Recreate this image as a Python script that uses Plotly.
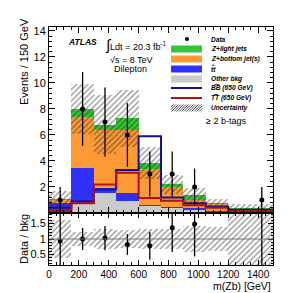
import plotly.graph_objects as go

# ---------------- data ----------------
edges = [0, 150, 300, 450, 600, 750, 900, 1050, 1200, 1350, 1500]
centers = [75, 225, 375, 525, 675, 825, 975, 1125, 1275, 1425]
other_bkg = [0.05, 0.72, 1.50, 0.90, 0.60, 0.45, 0.30, 0.15, 0.05, 0.05]
ttbar = [0.75, 2.74, 0.45, 0.60, 0.05, 0.05, 0.05, 0.03, 0.02, 0.02]
z_bottom = [0.25, 3.94, 4.45, 4.90, 2.75, 1.50, 0.65, 0.55, 0.18, 0.18]
z_light = [0.02, 0.60, 0.40, 0.90, 0.45, 0.20, 0.35, 0.02, 0.10, 0.10]
bb650 = [0.40, 0.90, 1.80, 3.30, 5.90, 1.20, 0.75, 0.50, 0.25, 0.25]
tt650 = [0.15, 0.75, 2.20, 3.10, 1.15, 0.95, 0.60, 0.40, 0.15, 0.15]
data = [1, 8, 7, 6, 3, 3, 2, 0, 0, 1]
data_err = [1.0, 2.83, 2.65, 2.45, 1.73, 1.73, 1.41, 0.0, 0.0, 1.0]
rel_unc = [0.60, 0.24, 0.33, 0.30, 0.32, 0.33, 0.42, 0.40, 0.90, 0.90]
x_ticks = [0, 200, 400, 600, 800, 1000, 1200, 1400]
y_ticks = [2, 4, 6, 8, 10, 12, 14]
r_ticks = [0.5, 1, 1.5]
r_tick_text = ["0.5", "1", "1.5"]

C_GREEN = "#34c634"
C_ORANGE = "#fd9a36"
C_BLUE = "#3030fb"
C_GREY = "#cbcbcb"
C_BB = "#12129a"
C_TT = "#b01212"
HATCH = "#222222"
FONT = "Liberation Sans"

W, H = 291, 293
L, R, T, B = 41, 26, 19, 36
PW, PH = W - L - R, H - T - B


def px(x):
    return (x - L) / PW


def py(y):
    return (H - B - y) / PH


width = [e2 - e1 for e1, e2 in zip(edges[:-1], edges[1:])]
total = [a + b + c + d for a, b, c, d in zip(other_bkg, ttbar, z_bottom, z_light)]

fig = go.Figure()

# stacked backgrounds
base = [0.0] * len(centers)
for vals, col, name in [(other_bkg, C_GREY, "Other bkg"), (ttbar, C_BLUE, "tt"),
                        (z_bottom, C_ORANGE, "Z+bottom"), (z_light, C_GREEN, "Z+light")]:
    fig.add_trace(go.Bar(x=centers, y=vals, base=base, width=width, marker=dict(color=col, line=dict(width=0)),
                         name=name, showlegend=False, xaxis="x", yaxis="y"))
    base = [b + v for b, v in zip(base, vals)]

hatch = dict(shape="/", fgcolor=HATCH, bgcolor="rgba(0,0,0,0)", size=4, solidity=0.32)

# uncertainty band (top)
fig.add_trace(go.Bar(x=centers, y=[2 * t * r for t, r in zip(total, rel_unc)],
                     base=[t * (1 - r) for t, r in zip(total, rel_unc)], width=width,
                     marker=dict(color="rgba(0,0,0,0)", line=dict(width=0), pattern=hatch),
                     showlegend=False, xaxis="x", yaxis="y"))

# signal lines
for vals, col in [(bb650, C_BB), (tt650, C_TT)]:
    fig.add_trace(go.Scatter(x=edges, y=vals + [vals[-1]], mode="lines", line=dict(color=col, width=2, shape="hv"),
                             showlegend=False, xaxis="x", yaxis="y"))

# data
dx = [c for c, d in zip(centers, data) if d > 0]
dy = [d for d in data if d > 0]
de = [e for e, d in zip(data_err, data) if d > 0]
fig.add_trace(go.Scatter(x=dx, y=dy, mode="markers", marker=dict(color="black", size=5),
                         error_y=dict(type="data", array=de, color="black", thickness=1.3, width=0),
                         showlegend=False, xaxis="x", yaxis="y"))

# ratio band
fig.add_trace(go.Bar(x=centers, y=[2 * r for r in rel_unc], base=[1 - r for r in rel_unc], width=width,
                     marker=dict(color="rgba(0,0,0,0)", line=dict(width=0), pattern=hatch),
                     showlegend=False, xaxis="x2", yaxis="y2"))
# ratio data
rx = [c for c, d in zip(centers, data) if d > 0]
ry = [d / t for d, t in zip(data, total) if d > 0]
re = [e / t for e, t, d in zip(data_err, total, data) if d > 0]
fig.add_trace(go.Scatter(x=rx, y=ry, mode="markers", marker=dict(color="black", size=5),
                         error_y=dict(type="data", array=re, color="black", thickness=1.3, width=0),
                         showlegend=False, xaxis="x2", yaxis="y2", cliponaxis=True))

split = (H - B - 205) / PH

axis_common = dict(showline=True, linecolor="black", linewidth=1, mirror="ticks", ticks="inside",
                   tickcolor="black", showgrid=False, zeroline=False,
                   tickfont=dict(family=FONT, size=10, color="black"))

fig.update_layout(
    width=W, height=H, autosize=False,
    margin=dict(l=L, r=R, t=T, b=B, pad=0),
    paper_bgcolor="white", plot_bgcolor="white",
    barmode="overlay", bargap=0,
    showlegend=False,
    xaxis=dict(domain=[0, 1], range=[0, 1500], anchor="y", showticklabels=False, tickvals=x_ticks, ticklen=6,
               minor=dict(ticks="inside", dtick=50, ticklen=3, tickcolor="black"), **axis_common),
    yaxis=dict(domain=[split, 1], range=[0, 14.3], anchor="x", tickvals=y_ticks, ticklen=6,
               minor=dict(ticks="inside", dtick=0.4, ticklen=3, tickcolor="black"), **axis_common),
    xaxis2=dict(domain=[0, 1], range=[0, 1500], anchor="y2", tickvals=x_ticks, ticklen=5,
                minor=dict(ticks="inside", dtick=50, ticklen=3, tickcolor="black"), **axis_common),
    yaxis2=dict(domain=[0, split], range=[0.16, 1.84], anchor="x2", tickvals=r_ticks, ticktext=r_tick_text, ticklen=5,
                minor=dict(ticks="inside", dtick=0.1, ticklen=2.5, tickcolor="black"), **axis_common),
)
fig.update_yaxes(tickfont=dict(family=FONT, size=11, color="black"))

# reference line at 1
fig.add_shape(type="line", xref="x2", yref="y2", x0=0, x1=1500, y0=1, y1=1, line=dict(color="#777777", width=1))

ann = []
# axis titles
ann.append(dict(x=px(8), y=py(54), text="Events / 150 GeV", textangle=-90, font=dict(family=FONT, size=11)))
ann.append(dict(x=px(8), y=py(231), text="Data / bkg", textangle=-90, font=dict(family=FONT, size=11)))
ann.append(dict(x=px(265), y=py(278), text="m(Zb) [GeV]", xanchor="right", font=dict(family=FONT, size=10.5)))
# ATLAS labels
ann.append(dict(x=px(58), y=py(34), text="<b><i>ATLAS</i></b>", xanchor="left", font=dict(family=FONT, size=8.5)))
ann.append(dict(x=px(95), y=py(37), text="<span style='font-size:15px'>∫</span>Ldt = 20.3 fb<sup>-1</sup>",
                xanchor="left", font=dict(family=FONT, size=9)))
ann.append(dict(x=px(123), y=py(52), text="√s = 8 TeV", xanchor="center", font=dict(family=FONT, size=9)))
ann.append(dict(x=px(122), y=py(61), text="Dilepton", xanchor="center", font=dict(family=FONT, size=9)))
ann.append(dict(x=px(196), y=py(113), text="≥ 2 b-tags", xanchor="left", font=dict(family=FONT, size=9)))

# legend
leg_x0, leg_x1, lab_x = 163, 194, 201
rows = [("Data", 31), ("Z+light jets", 41), ("Z+bottom jet(s)", 51), ("tt", 61),
        ("Other bkg", 71), ("BB (650 GeV)", 80), ("TT (650 GeV)", 90),
        ("Uncertainty", 100)]
for label, yy in rows:
    ann.append(dict(x=px(lab_x), y=py(yy), text="<b><i>" + label + "</i></b>", xanchor="left",
                    font=dict(family=FONT, size=6.6)))
for a in ann:
    a.update(xref="paper", yref="paper", showarrow=False, font=dict(color="black", **a["font"]))
    if "yanchor" not in a:
        a["yanchor"] = "middle"
fig.update_layout(annotations=ann)

# overlines for antiparticles (t-bar, B-bar, T-bar)
for xa, xb, yy in [(204.0, 206.6, 57.2), (206.6, 211.2, 76.4), (206.0, 210.0, 86.4)]:
    fig.add_shape(type="line", xref="paper", yref="paper", x0=px(xa), x1=px(xb), y0=py(yy), y1=py(yy),
                  line=dict(color="black", width=0.8))

# legend symbols
fig.add_shape(type="circle", xref="paper", yref="paper", x0=px(177), x1=px(181), y0=py(33), y1=py(29),
              fillcolor="black", line=dict(width=0))
for col, yy in [(C_GREEN, 41), (C_ORANGE, 51), (C_BLUE, 61), (C_GREY, 71)]:
    fig.add_shape(type="rect", xref="paper", yref="paper", x0=px(leg_x0), x1=px(leg_x1), y0=py(yy + 3.5),
                  y1=py(yy - 3.5), fillcolor=col, line=dict(width=0))
for col, yy in [(C_BB, 80), (C_TT, 90)]:
    fig.add_shape(type="line", xref="paper", yref="paper", x0=px(leg_x0), x1=px(leg_x1), y0=py(yy), y1=py(yy),
                  line=dict(color=col, width=2))
# hatch legend symbol
hy0, hy1 = 103.5, 96.5
hh = hy0 - hy1
k = leg_x0 - hh
while k < leg_x1:
    xa, ya = k, hy0
    xb, yb = k + hh, hy1
    if xa < leg_x0:
        ya = hy0 - (leg_x0 - xa)
        xa = leg_x0
    if xb > leg_x1:
        yb = hy1 + (xb - leg_x1)
        xb = leg_x1
    if xb > xa:
        fig.add_shape(type="line", xref="paper", yref="paper", x0=px(xa), x1=px(xb), y0=py(ya), y1=py(yb),
                      line=dict(color=HATCH, width=0.8))
    k += 2.5

fig.write_html("out.html")
